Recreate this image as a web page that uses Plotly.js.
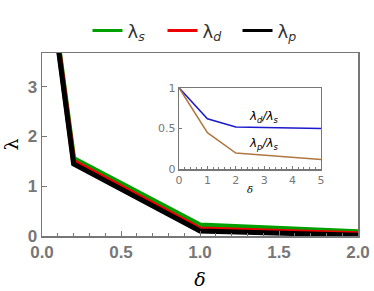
<!DOCTYPE html>
<html><head><meta charset="utf-8">
<script src="https://cdn.plot.ly/plotly-3.0.1.min.js"></script>
<style>body{margin:0;padding:0;background:#fff}#plot{width:374px;height:291px}</style>
</head><body><div id="plot"></div>
<script>
const delta = [0.1, 0.2, 1.0, 2.0];
const lambdaS = [3.95, 1.56, 0.22, 0.085];
const lambdaD = [3.9, 1.5, 0.14, 0.045];
const lambdaP = [3.85, 1.45, 0.1, 0.015];
const deltaInset = [0, 1, 2, 5];
const ratioD = [1, 0.62, 0.52, 0.5];
const ratioP = [1, 0.45, 0.2, 0.12];
const seriesNames = ['λ<sub><i>s</i></sub>', 'λ<sub><i>d</i></sub>', 'λ<sub><i>p</i></sub>'];
const seriesColors = ['#00a000', '#ee0000', '#000000'];
const seriesData = [lambdaS, lambdaD, lambdaP];

const gray = '#777';
const traces = [];
seriesData.forEach((ys, i) => {
  traces.push({x: delta, y: ys, mode: 'lines', showlegend: false, line: {color: seriesColors[i], width: 5}});
});
seriesData.forEach((ys, i) => {
  traces.push({x: [null], y: [null], name: seriesNames[i], mode: 'lines', line: {color: seriesColors[i], width: 3}});
});
traces.push({x: deltaInset, y: ratioD, xaxis: 'x2', yaxis: 'y2', mode: 'lines', showlegend: false, line: {color: '#1a1acc', width: 1.5}});
traces.push({x: deltaInset, y: ratioP, xaxis: 'x2', yaxis: 'y2', mode: 'lines', showlegend: false, line: {color: '#b07840', width: 1.5}});

const layout = {
  width: 374, height: 291,
  margin: {l: 42, r: 16, t: 41, b: 55},
  paper_bgcolor: '#fff', plot_bgcolor: '#fff',
  showlegend: true,
  legend: {orientation: 'h', x: 0.5, xanchor: 'center', y: 1.02, yanchor: 'bottom',
    font: {family: 'DejaVu Sans, sans-serif', size: 18, color: '#333'}, entrywidth: 30, entrywidthmode: 'pixels', tracegroupgap: 0},
  xaxis: {range: [0, 2], tickvals: [0, 0.5, 1, 1.5, 2], ticktext: ['0.0', '0.5', '1.0', '1.5', '2.0'],
    showline: true, mirror: true, linecolor: gray, linewidth: 1.5, showgrid: false, zeroline: false,
    ticks: 'inside', ticklen: 5, tickcolor: gray,
    minor: {dtick: 0.1, ticks: 'inside', ticklen: 3, tickcolor: gray, showgrid: false},
    tickfont: {family: 'Liberation Sans, Arial, sans-serif', size: 17, color: gray, weight: 'bold'},
    title: {text: '<i>δ</i>', font: {family: 'DejaVu Serif, serif', size: 19, color: '#000'}, standoff: 12}},
  yaxis: {range: [0, 3.68], tickvals: [0, 1, 2, 3],
    showline: true, mirror: true, linecolor: gray, linewidth: 1.5, showgrid: false, zeroline: false,
    ticks: 'inside', ticklen: 5, tickcolor: gray,
    tickfont: {family: 'Liberation Sans, Arial, sans-serif', size: 17, color: gray, weight: 'bold'},
    title: {text: 'λ', font: {family: 'DejaVu Serif, serif', size: 19, color: '#000'}, standoff: 10}},
  xaxis2: {domain: [0.4335, 0.883], anchor: 'y2', range: [0, 5], tickvals: [0, 1, 2, 3, 4, 5],
    showline: true, mirror: true, linecolor: gray, linewidth: 1.2, showgrid: false, zeroline: false,
    ticks: 'inside', ticklen: 3, tickcolor: gray,
    minor: {dtick: 0.2, ticks: 'inside', ticklen: 2, tickcolor: gray},
    tickfont: {family: 'DejaVu Sans, sans-serif', size: 11, color: gray},
    title: {text: '<i>δ</i>', font: {family: 'DejaVu Serif, serif', size: 10, color: '#000'}, standoff: 0}},
  yaxis2: {domain: [0.364, 0.81], anchor: 'x2', range: [0, 1], tickvals: [0, 0.5, 1],
    showline: true, mirror: true, linecolor: gray, linewidth: 1.2, showgrid: false, zeroline: false,
    ticks: 'inside', ticklen: 3, tickcolor: gray,
    tickfont: {family: 'DejaVu Sans, sans-serif', size: 11, color: gray}},
  annotations: [
    {xref: 'x2', yref: 'y2', x: 3.0, y: 0.52, text: '<i>λ<sub>d</sub>/λ<sub>s</sub></i>', showarrow: false, yanchor: 'bottom',
      font: {family: 'DejaVu Sans, sans-serif', size: 12, color: '#000'}},
    {xref: 'x2', yref: 'y2', x: 3.0, y: 0.19, text: '<i>λ<sub>p</sub>/λ<sub>s</sub></i>', showarrow: false, yanchor: 'bottom',
      font: {family: 'DejaVu Sans, sans-serif', size: 12, color: '#000'}}
  ]
};
Plotly.newPlot('plot', traces, layout, {displayModeBar: false, staticPlot: true});
</script></body></html>
